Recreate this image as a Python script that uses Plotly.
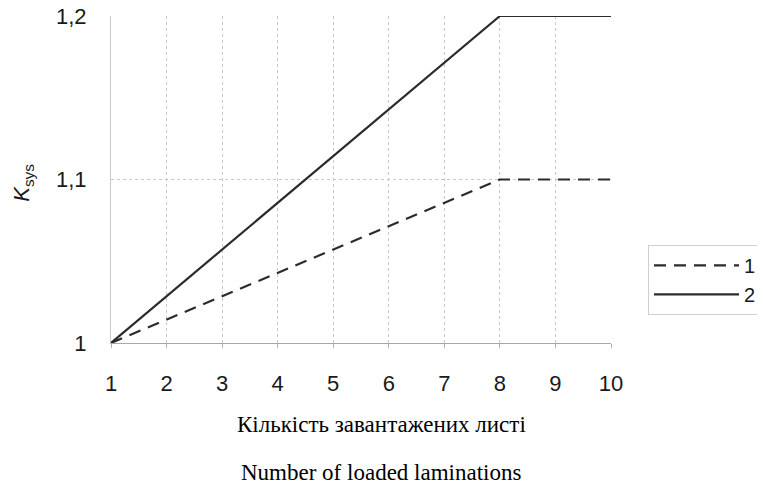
import plotly.graph_objects as go

# Data (vertices of the piecewise-linear curves)
x_pts = [1, 8, 10]
series1 = [1.0, 1.1, 1.1]   # dashed, legend "1"
series2 = [1.0, 1.2, 1.2]   # solid, legend "2"
x_ticks = [1, 2, 3, 4, 5, 6, 7, 8, 9, 10]
y_ticks = [1.0, 1.1, 1.2]
y_tick_labels = ["1", "1,1", "1,2"]
title_ua = "Кількість завантажених листі"
title_en = "Number of loaded laminations"

line_col = "#2c2c2c"

fig = go.Figure()
fig.add_trace(go.Scatter(x=x_pts, y=series1, mode="lines", name="1",
                         line=dict(color=line_col, width=2.2, dash="12px,8px")))
fig.add_trace(go.Scatter(x=x_pts, y=series2, mode="lines", name="2",
                         line=dict(color=line_col, width=2.2)))

fig.update_layout(
    width=765, height=491,
    margin=dict(l=103, r=162, t=8, b=156, autoexpand=False),
    paper_bgcolor="white", plot_bgcolor="white",
    font=dict(family="Liberation Sans, Arial", size=22, color="#1a1a1a"),
    showlegend=True,
    legend=dict(x=1.074, y=0.30, xanchor="left", yanchor="top",
                bordercolor="#cfcfcf", borderwidth=1, bgcolor="white",
                font=dict(size=20, color="#1a1a1a"),
                itemwidth=85),
    annotations=[
        dict(text="<i>K</i><sub>sys</sub>", xref="paper", yref="paper",
             x=-0.176, y=0.49, xanchor="center", yanchor="middle",
             textangle=-90, showarrow=False,
             font=dict(family="Liberation Sans, Arial", size=22, color="#1a1a1a")),
        dict(text=title_ua, xref="paper", yref="paper", x=0.54, y=-0.25,
             xanchor="center", yanchor="middle", showarrow=False,
             font=dict(family="Liberation Serif, Times New Roman", size=23, color="black")),
        dict(text=title_en, xref="paper", yref="paper", x=0.54, y=-0.397,
             xanchor="center", yanchor="middle", showarrow=False,
             font=dict(family="Liberation Serif, Times New Roman", size=23, color="black")),
    ],
)

fig.update_xaxes(range=[1, 10], tickvals=x_ticks, ticktext=[str(v) for v in x_ticks],
                 showgrid=True, gridcolor="#c8c8c8", griddash="dot", gridwidth=1,
                 showline=True, linecolor="#a8a8a8", linewidth=1,
                 mirror=False, zeroline=False,
                 ticks="outside", ticklen=4, tickcolor="#b0b0b0",
                 ticklabelstandoff=17, ticklabeloverflow="allow",
                 tickfont=dict(size=22))
fig.update_yaxes(range=[1, 1.2], tickvals=y_ticks, ticktext=y_tick_labels,
                 showgrid=True, gridcolor="#c8c8c8", griddash="dot", gridwidth=1,
                 showline=True, linecolor="#c8c8c8", linewidth=1,
                 zeroline=False, ticks="", ticklabelstandoff=19,
                 ticklabeloverflow="allow",
                 tickfont=dict(size=22))

fig.write_html("out.html")
